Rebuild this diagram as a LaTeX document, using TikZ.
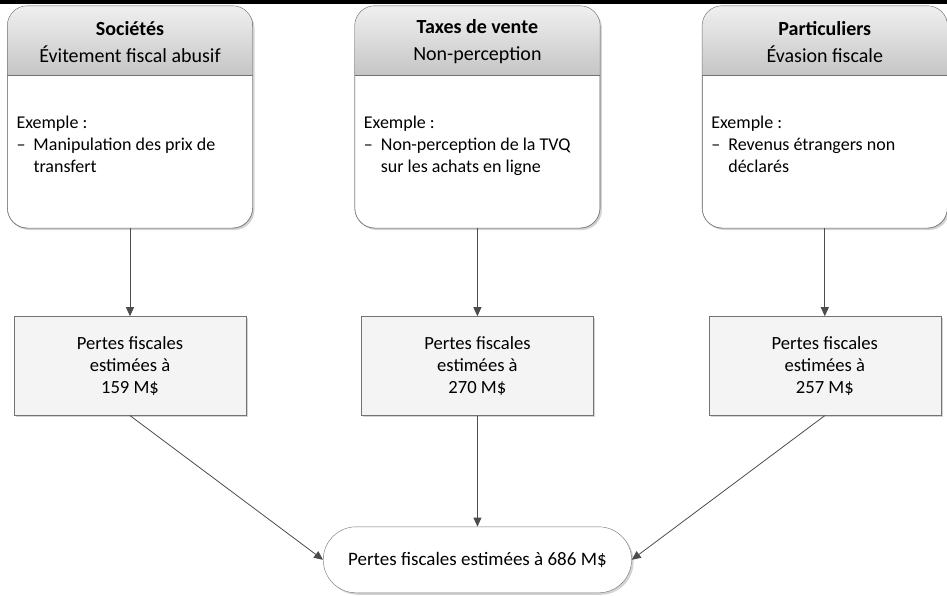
\documentclass[tikz,border=0pt]{standalone}
\usepackage{fontspec}
\setmainfont{Carlito}
\usetikzlibrary{positioning,shadows,shapes.misc,arrows.meta}

\newcommand{\tiret}{\makebox[17pt][l]{–}}
\newcommand{\retrait}{\hspace*{17pt}}

\begin{document}
\begin{tikzpicture}[
    x=1pt, y=-1pt,
    node distance=102pt,
    every node/.style={font=\fontsize{18}{22}\selectfont},
    cadre/.style={rectangle, draw=gray!90!black, fill=white, rounded corners=20pt, minimum width=245pt, minimum height=222pt,
        drop shadow={shadow xshift=2pt, shadow yshift=-2pt, opacity=0.35, fill=gray}},
    entete/.style={align=center, inner sep=0pt, font=\fontsize{20}{22}\selectfont},
    corps/.style={align=left, inner sep=0pt, anchor=north west},
    perte/.style={rectangle, draw=gray!90!black, fill=gray!9, minimum width=232pt, minimum height=99pt, align=center,
        font=\fontsize{18.6}{22}\selectfont,
        drop shadow={shadow xshift=2pt, shadow yshift=-2pt, opacity=0.35, fill=gray}},
    total/.style={rounded rectangle, draw=gray!90!black, fill=white, minimum width=315pt, minimum height=66pt,
        font=\fontsize{19}{22}\selectfont,
        drop shadow={shadow xshift=2pt, shadow yshift=-2pt, opacity=0.35, fill=gray}},
    fleche/.style={-{Triangle[width=8pt, length=9pt]}, draw=black!70, line width=0.8pt}
]
    \useasboundingbox (0,0) rectangle (947,595);
    \fill[black] (0,0) rectangle (947,4);

    % types d'evasion
    \node[cadre] (soc) at (130,117) {};
    \node[cadre, right=of soc] (taxe) {};
    \node[cadre, right=of taxe] (part) {};

    \foreach \b in {soc,taxe,part} {
        \begin{scope}
            \clip[rounded corners=20pt] (\b.north west) rectangle (\b.south east);
            \shade[top color=gray!12, bottom color=gray!45] (\b.north west) rectangle ([yshift=-69pt]\b.north east);
        \end{scope}
        \draw[gray!90!black] ([yshift=-69pt]\b.north west) -- ([yshift=-69pt]\b.north east);
        \draw[gray!90!black, rounded corners=20pt] (\b.north west) rectangle (\b.south east);
    }

    \node[entete] (soc-t) at ([yshift=-36pt]soc.north) {\textbf{Sociétés}\\[5pt]Évitement fiscal abusif};
    \node[entete] (taxe-t) at ([yshift=-36pt]taxe.north) {\textbf{Taxes de vente}\\[5pt]Non-perception};
    \node[entete] (part-t) at ([yshift=-36pt]part.north) {\textbf{Particuliers}\\[5pt]Évasion fiscale};

    \node[corps] (soc-c) at ([xshift=9pt, yshift=-109.5pt]soc.north west)
        {Exemple :\\\tiret Manipulation des prix de\\\retrait transfert};
    \node[corps] (taxe-c) at ([xshift=9pt, yshift=-109.5pt]taxe.north west)
        {Exemple :\\\tiret Non-perception de la TVQ\\\retrait sur les achats en ligne};
    \node[corps] (part-c) at ([xshift=9pt, yshift=-109.5pt]part.north west)
        {Exemple :\\\tiret Revenus étrangers non\\\retrait déclarés};

    % pertes
    \node[perte, below=88pt of soc] (soc-p) {Pertes fiscales\\estimées à\\159 M\$};
    \node[perte, below=88pt of taxe] (taxe-p) {Pertes fiscales\\estimées à\\270 M\$};
    \node[perte, below=88pt of part] (part-p) {Pertes fiscales\\estimées à\\257 M\$};

    \node[total, below=111pt of taxe-p] (tot) {Pertes fiscales estimées à 686 M\$};

    \draw[fleche] (soc) -- (soc-p);
    \draw[fleche] (taxe) -- (taxe-p);
    \draw[fleche] (part) -- (part-p);
    \draw[fleche] (soc-p.south) -- (tot.west);
    \draw[fleche] (taxe-p) -- (tot);
    \draw[fleche] (part-p.south) -- (tot.east);
\end{tikzpicture}
\end{document}
